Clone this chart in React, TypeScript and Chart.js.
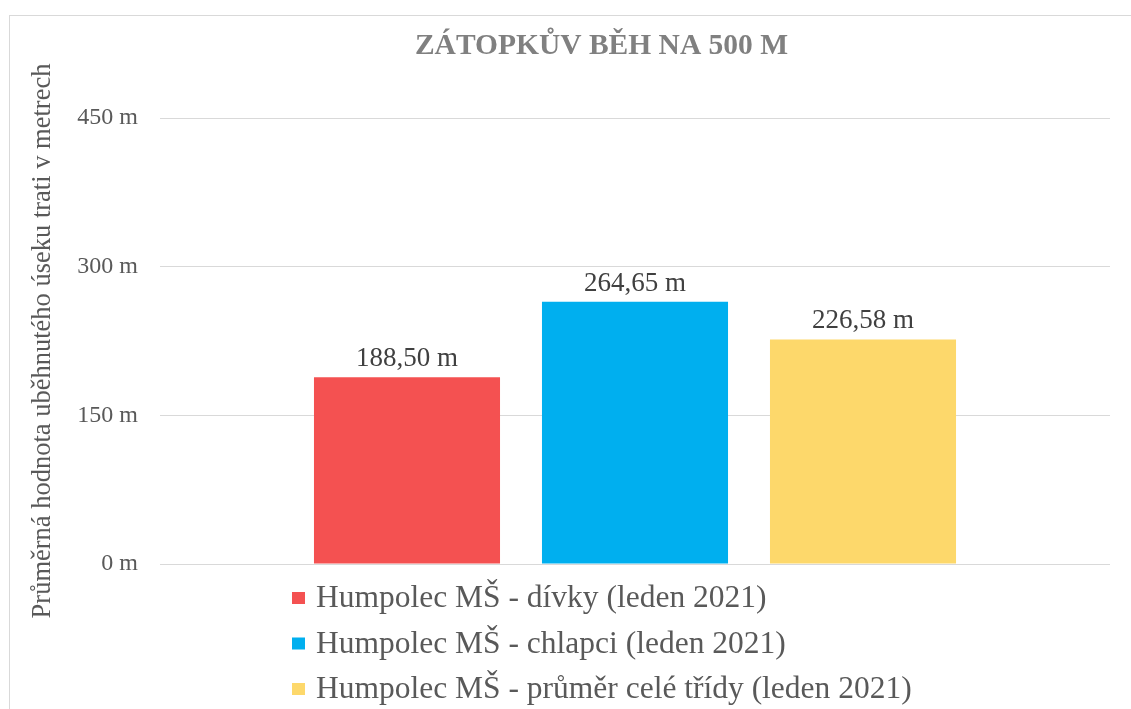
import React, { useEffect, useRef } from "react";
import { Chart, registerables } from "chart.js";

Chart.register(...registerables);

const chartTitle = "ZÁTOPKŮV BĚH NA 500 M";
const axisTitle = "Průměrná hodnota uběhnutého úseku trati v metrech";
const categories = [""];
const seriesNames = [
  "Humpolec MŠ - dívky (leden 2021)",
  "Humpolec MŠ - chlapci (leden 2021)",
  "Humpolec MŠ - průměr celé třídy (leden 2021)",
];
const seriesValues = [188.5, 264.65, 226.58];
const seriesColors = ["#F45151", "#00AFEF", "#FDD86B"];
const yTicks = [0, 150, 300, 450];

const SERIF = "'Liberation Serif', 'Times New Roman', serif";

const fmt = (v: number) => v.toFixed(2).replace(".", ",") + " m";

const centeredTitle = {
  id: "centeredTitle",
  afterDraw(chart: any) {
    const ctx = chart.ctx;
    ctx.save();
    ctx.font = `bold 29.5px ${SERIF}`;
    ctx.fillStyle = "#808080";
    ctx.textAlign = "center";
    ctx.textBaseline = "alphabetic";
    ctx.fillText(chartTitle, chart.width / 2, 38);
    ctx.restore();
  },
};

const valueLabels = {
  id: "valueLabels",
  afterDatasetsDraw(chart: any) {
    const ctx = chart.ctx;
    ctx.save();
    ctx.font = `27px ${SERIF}`;
    ctx.fillStyle = "#404040";
    ctx.textAlign = "center";
    ctx.textBaseline = "alphabetic";
    chart.data.datasets.forEach((ds: any, i: number) => {
      const meta = chart.getDatasetMeta(i);
      meta.data.forEach((bar: any, j: number) => {
        ctx.fillText(fmt(ds.data[j]), bar.x, bar.y - 11);
      });
    });
    ctx.restore();
  },
};

const stackedLegend = {
  id: "stackedLegend",
  afterDraw(chart: any) {
    const ctx = chart.ctx;
    const base = chart.chartArea.bottom;
    ctx.save();
    ctx.font = `31.5px ${SERIF}`;
    ctx.textBaseline = "middle";
    ctx.textAlign = "left";
    chart.data.datasets.forEach((ds: any, i: number) => {
      const y = base + 34 + i * 45.5;
      ctx.fillStyle = ds.backgroundColor;
      ctx.fillRect(282, y - 6, 13, 12);
      ctx.fillStyle = "#595959";
      ctx.fillText(ds.label, 306, y + 1);
    });
    ctx.restore();
  },
};

export default function App() {
  const ref = useRef<HTMLCanvasElement | null>(null);
  useEffect(() => {
    if (!ref.current) return;
    const chart = new Chart(ref.current, {
      type: "bar",
      data: {
        labels: categories,
        datasets: seriesNames.map((name, i) => ({
          label: name,
          data: [seriesValues[i]],
          backgroundColor: seriesColors[i],
          categoryPercentage: 0.72,
          barPercentage: 0.816,
        })),
      },
      options: {
        animation: false,
        responsive: false,
        maintainAspectRatio: false,
        layout: { padding: { left: 0, right: 83, top: 102, bottom: 152 } },
        plugins: {
          legend: { display: false },
          tooltip: { enabled: false },
          title: { display: false },
        },
        scales: {
          x: { display: false },
          y: {
            min: 0,
            max: 450,
            afterBuildTicks: (scale: any) => {
              scale.ticks = yTicks.map((v) => ({ value: v }));
            },
            afterFit: (scale: any) => {
              scale.width = 150;
            },
            border: { display: false },
            grid: { color: "#D9D9D9", lineWidth: 1, drawTicks: false },
            ticks: {
              color: "#595959",
              font: { family: SERIF, size: 24 },
              padding: 22,
              callback: (v: any) => `${v} m`,
            },
            title: {
              display: true,
              text: axisTitle,
              color: "#595959",
              font: { family: SERIF, size: 26.5 },
              padding: { top: 17, bottom: 0 },
            },
          },
        },
      },
      plugins: [valueLabels, stackedLegend, centeredTitle],
    });
    return () => chart.destroy();
  }, []);

  return (
    <div
      style={{
        position: "absolute",
        left: 0,
        top: 0,
        width: 1131,
        height: 709,
        overflow: "hidden",
        background: "#fff",
      }}
    >
      <div
        style={{
          position: "absolute",
          left: 9,
          top: 15,
          width: 1183,
          height: 720,
          border: "1px solid #D9D9D9",
          background: "#fff",
        }}
      >
        <canvas ref={ref} width={1183} height={700} style={{ display: "block" }} />
      </div>
    </div>
  );
}
